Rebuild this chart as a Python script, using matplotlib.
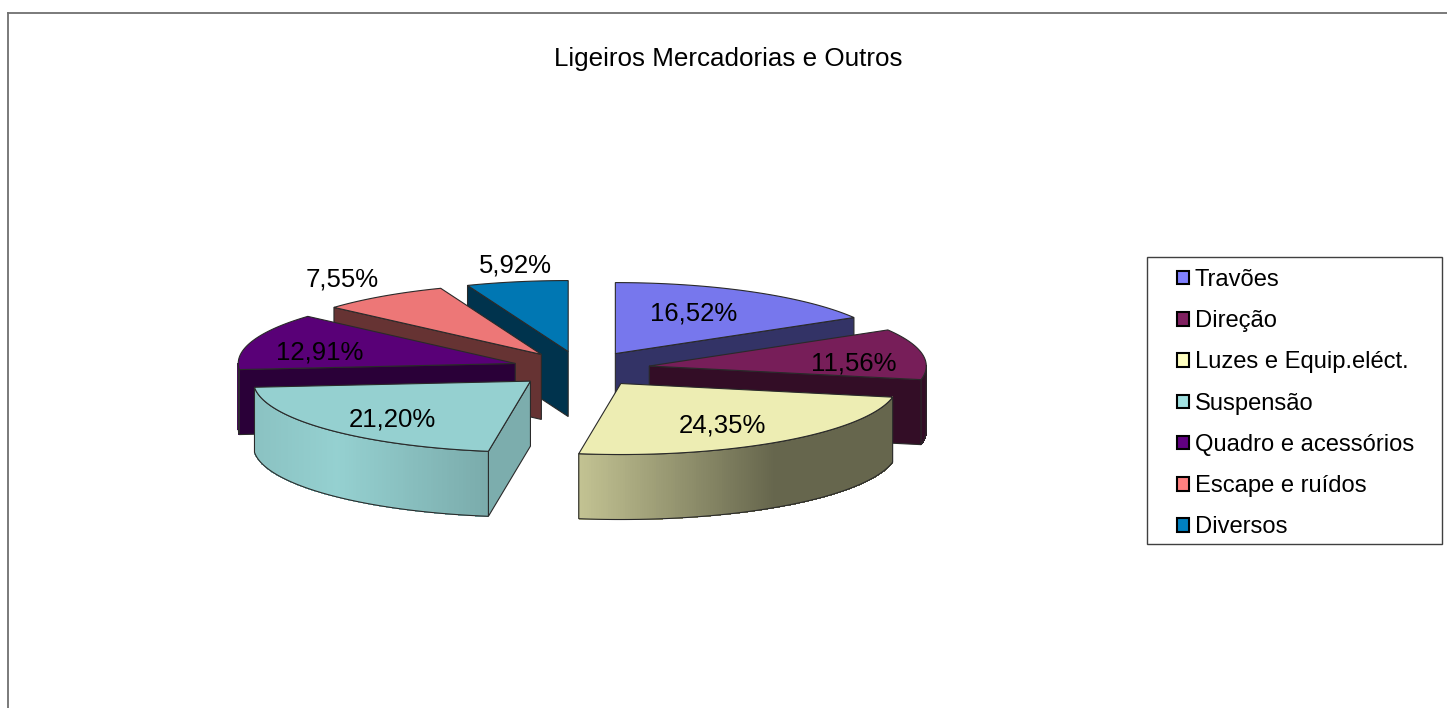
import numpy as np
import matplotlib
matplotlib.use("Agg")
import matplotlib.pyplot as plt
from matplotlib.patches import Patch, Rectangle

plt.rcParams['font.family'] = ['Liberation Sans', 'DejaVu Sans']

title = "Ligeiros Mercadorias e Outros"
categories = ["Travões", "Direção", "Luzes e Equip.eléct.", "Suspensão",
              "Quadro e acessórios", "Escape e ruídos", "Diversos"]
values = [16.52, 11.56, 24.35, 21.20, 12.91, 7.55, 5.92]
value_labels = ["16,52%", "11,56%", "24,35%", "21,20%", "12,91%", "7,55%", "5,92%"]
colors = ["#8080FF", "#802060", "#FFFFC0", "#A0E0E0", "#600080", "#FF8080", "#0080C0"]

# pixel positions of the labels
label_x = [694, 854, 722, 392, 320, 342, 515]
label_y = [313, 363, 426, 420, 352, 280, 265]
wall_shade = [.43, .43, .43, .83, .47, .43, .43]
draw_order = [6, 5, 4, 3, 0, 1, 2]

W, H = 1447, 708
cx, cy, rx, ry = 581, 369, 277, 71
explode = 0.25
depth = 65 / ry
line = "#2a2a2a"
lw = 0.8


def shade(color, s):
    return tuple(np.array(matplotlib.colors.to_rgb(color)) * s)


def rim_shade(u):
    return np.interp(u, [-1, -.7, -.15, .55, 1], [.93, 1, .82, .43, .43])


fig = plt.figure(figsize=(W / 100, H / 100), dpi=100)
ax = fig.add_axes([0, 0, 1, 1])
ax.set_xlim(-cx / rx, (W - cx) / rx)
ax.set_ylim((cy - H) / ry, cy / ry)
ax.axis("off")

# 0 degrees is at the top, going clockwise
edges = np.cumsum([0] + values) / sum(values) * 360

for i in draw_order:
    a0, a1 = edges[i], edges[i + 1]
    mid = np.radians((a0 + a1) / 2)
    vx, vy = explode * np.sin(mid), explode * np.cos(mid)
    base = colors[i]
    theta = np.radians(np.linspace(a0, a1, 200))
    xs = vx + np.sin(theta)
    ys = vy + np.cos(theta)

    # the straight side that faces the viewer
    if a0 > 180 or a1 < 180:
        a = a0 if a0 > 180 else a1
        ex, ey = vx + np.sin(np.radians(a)), vy + np.cos(np.radians(a))
        ax.fill([vx, ex, ex, vx], [vy, ey, ey - depth, vy - depth],
                facecolor=shade(base, .93 * wall_shade[i]), edgecolor=line, lw=lw)

    # the curved side, only its front part, in small steps for the gradient
    f0, f1 = max(a0, 90), min(a1, 270)
    if f1 > f0:
        t = np.radians(np.linspace(f0, f1, int((f1 - f0) * 2) + 2))
        fx = vx + np.sin(t)
        fy = vy + np.cos(t)
        for k in range(len(t) - 1):
            c = shade(base, .93 * rim_shade(np.sin((t[k] + t[k + 1]) / 2)))
            ax.fill([fx[k], fx[k + 1], fx[k + 1], fx[k]],
                    [fy[k], fy[k + 1], fy[k + 1] - depth, fy[k] - depth],
                    facecolor=c, edgecolor=c, lw=0.4, antialiased=False)
        ax.fill(np.r_[fx, fx[::-1]], np.r_[fy, fy[::-1] - depth],
                facecolor="none", edgecolor=line, lw=lw)

    # top of the slice
    ax.fill(np.r_[vx, xs], np.r_[vy, ys], facecolor=shade(base, .93),
            edgecolor=line, lw=lw)

for s, x, y in zip(value_labels, label_x, label_y):
    fig.text(x / W, 1 - y / H, s, fontsize=18.5, color="black", ha="center", va="center")

fig.text(728 / W, 1 - 59 / H, title, fontsize=18.7, color="black", ha="center", va="center")

# outer chart frame: only the top and left edges are inside the picture
fig.add_artist(plt.Line2D([8 / W, 8 / W], [0, 1 - 13 / H], color="#707070", lw=1.3))
fig.add_artist(plt.Line2D([8 / W, 1], [1 - 13 / H, 1 - 13 / H], color="#707070", lw=1.3))

# legend box is drawn apart, its padding is not the same on all sides
fig.add_artist(Rectangle((1147 / W, 1 - 544 / H), 295 / W, 287 / H, transform=fig.transFigure,
                         facecolor="white", edgecolor="#404040", lw=1.0))
handles = [Patch(facecolor=c, edgecolor="black", lw=1.5) for c in colors]
leg = fig.legend(handles, categories, loc="upper left", frameon=False, fontsize=17.1,
                 bbox_to_anchor=(1177 / W, 1 - 269 / H), bbox_transform=fig.transFigure,
                 borderpad=0, borderaxespad=0, handlelength=0.5, handleheight=0.5,
                 handletextpad=0.24, labelspacing=0.81)
leg.set_zorder(5)

fig.savefig("out.png", dpi=100)
